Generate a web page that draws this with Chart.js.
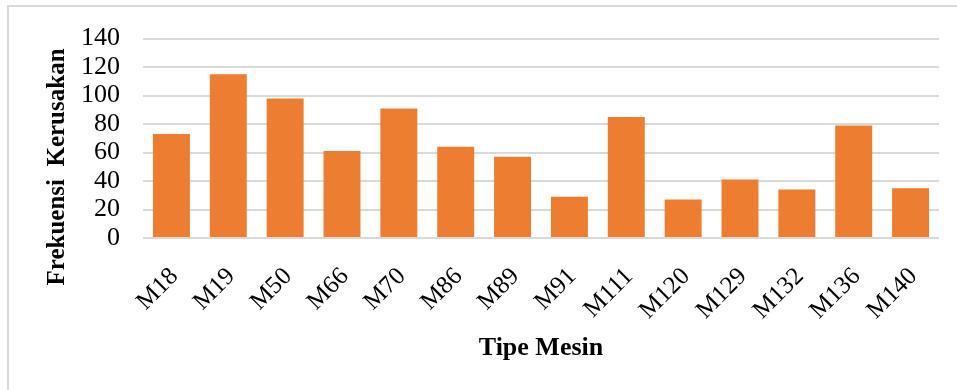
<!DOCTYPE html>
<html>
<head>
<meta charset="utf-8">
<script src="https://cdn.jsdelivr.net/npm/chart.js@4/dist/chart.umd.min.js"></script>
<style>
  html, body { margin: 0; padding: 0; background: #fff; }
  #wrap { position: relative; width: 957px; height: 390px; overflow: hidden; }
  #frame { position: absolute; left: 7px; top: 5px; width: 960px; height: 400px; border: 2px solid #d9d9d9; box-sizing: border-box; }
  #grafico { position: absolute; left: 0; top: 0; }
</style>
</head>
<body>
<div id="wrap">
  <div id="frame"></div>
  <canvas id="grafico" width="957" height="390"></canvas>
</div>
<script>
// datos
const tiposMesin = ['M18','M19','M50','M66','M70','M86','M89','M91','M111','M120','M129','M132','M136','M140'];
const frekuensi = [73, 115, 98, 61, 91, 64, 57, 29, 85, 27, 41, 34, 79, 35];
const yTicks = [0, 20, 40, 60, 80, 100, 120, 140];
const tituloY = 'Frekuensi  Kerusakan';
const tituloX = 'Tipe Mesin';

const fuente = '"Liberation Serif", "Times New Roman", serif';

// titulo del eje Y dibujado a mano para centrarlo como en el original
const tituloEjeY = {
    id: 'tituloEjeY',
    afterDraw(chart) {
        const ctx = chart.ctx;
        ctx.save();
        ctx.translate(58, 167);
        ctx.rotate(-Math.PI / 2);
        ctx.font = 'bold 25px ' + fuente;
        ctx.fillStyle = '#000';
        ctx.textAlign = 'center';
        ctx.textBaseline = 'middle';
        ctx.fillText(tituloY, 0, 0);
        ctx.restore();
    }
};

const ctx = document.getElementById('grafico').getContext('2d');
const myChart = new Chart(ctx, {
    type: 'bar',
    data: {
        labels: tiposMesin,
        datasets: [{
            label: 'Frekuensi',
            data: frekuensi,
            backgroundColor: '#ED7D31',
            borderWidth: 0,
            barPercentage: 0.65,
            categoryPercentage: 1
        }]
    },
    options: {
        responsive: false,
        animation: false,
        layout: { padding: { left: 0, right: 18, top: 20, bottom: 26 } },
        plugins: { legend: { display: false }, tooltip: { enabled: false } },
        scales: {
            x: {
                grid: { display: false },
                border: { display: false },
                ticks: {
                    color: '#000',
                    font: { family: fuente, size: 25 },
                    minRotation: 45,
                    maxRotation: 45,
                    autoSkip: false,
                    padding: 16,
                    labelOffset: 3
                },
                title: {
                    display: true,
                    text: tituloX,
                    color: '#000',
                    font: { family: fuente, size: 26, weight: 'bold' },
                    padding: { top: 14, bottom: 0 }
                },
                afterFit(scale) { scale.height = 126; }
            },
            y: {
                min: 0,
                max: 140,
                afterBuildTicks(scale) { scale.ticks = yTicks.map(v => ({ value: v })); },
                grid: { color: '#d9d9d9', lineWidth: 2, drawTicks: false },
                border: { display: false },
                ticks: {
                    color: '#000',
                    font: { family: fuente, size: 26 },
                    autoSkip: false,
                    padding: 23
                },
                afterFit(scale) { scale.width = 143; }
            }
        }
    },
    plugins: [tituloEjeY]
});
</script>
</body>
</html>
